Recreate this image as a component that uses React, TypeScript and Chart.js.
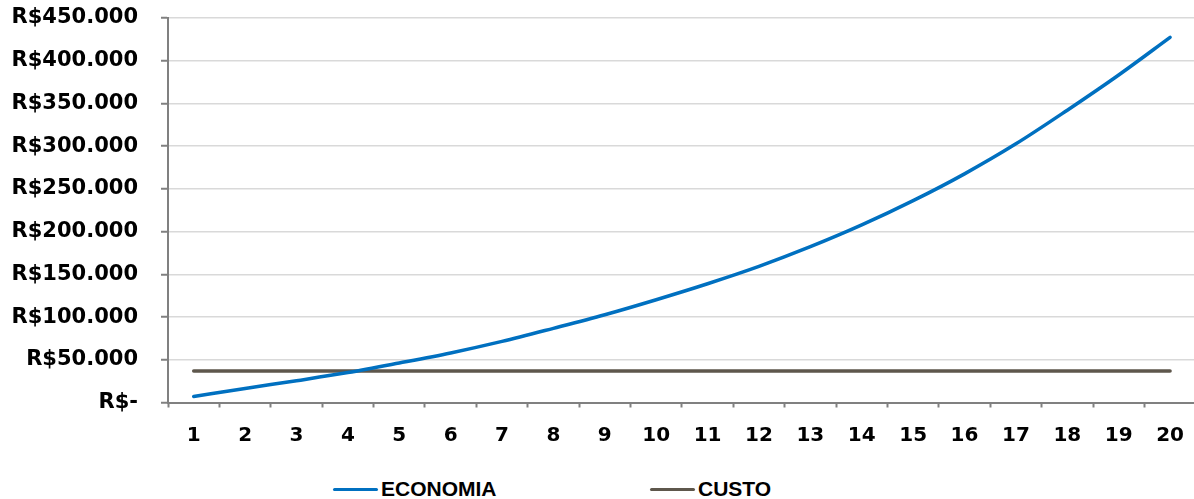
import React, { useEffect, useRef } from "react";
import { Chart, registerables } from "chart.js";

Chart.register(...registerables);

const years = ["1", "2", "3", "4", "5", "6", "7", "8", "9", "10", "11", "12", "13", "14", "15", "16", "17", "18", "19", "20"];
const economia = [7000, 16500, 25500, 35000, 46200, 58000, 71500, 86800, 102700, 120300, 139000, 159300, 182300, 207800, 236200, 267600, 302700, 342100, 383300, 427300];
const custo = [37000, 37000, 37000, 37000, 37000, 37000, 37000, 37000, 37000, 37000, 37000, 37000, 37000, 37000, 37000, 37000, 37000, 37000, 37000, 37000];
const yTickLabels = ["R$-", "R$50.000", "R$100.000", "R$150.000", "R$200.000", "R$250.000", "R$300.000", "R$350.000", "R$400.000", "R$450.000"];
const seriesNames = ["ECONOMIA", "CUSTO"];
const seriesColors = ["#0070C0", "#5E574C"];

export default function App() {
  const canvasRef = useRef<HTMLCanvasElement | null>(null);

  useEffect(() => {
    if (!canvasRef.current) return;
    const chart = new Chart(canvasRef.current, {
      type: "line",
      data: {
        labels: years,
        datasets: [
          {
            label: seriesNames[0],
            data: economia,
            borderColor: seriesColors[0],
            backgroundColor: seriesColors[0],
            borderWidth: 3.5,
            pointRadius: 0,
            cubicInterpolationMode: "monotone",
            borderCapStyle: "round",
          },
          {
            label: seriesNames[1],
            data: custo,
            borderColor: seriesColors[1],
            backgroundColor: seriesColors[1],
            borderWidth: 3.5,
            pointRadius: 0,
            tension: 0,
            borderCapStyle: "round",
          },
        ],
      },
      options: {
        animation: false,
        responsive: true,
        maintainAspectRatio: false,
        layout: { padding: { top: 0, right: 0, bottom: 0, left: 0 } },
        plugins: {
          legend: { display: false },
          tooltip: { enabled: false },
        },
        scales: {
          x: {
            type: "category",
            offset: true,
            grid: {
              offset: true,
              drawOnChartArea: false,
              tickLength: 5,
              tickColor: "#808080",
              tickWidth: 2,
            },
            border: { color: "#808080", width: 2 },
            ticks: {
              color: "#000000",
              padding: 16,
              maxRotation: 0,
              autoSkip: false,
              font: { family: "'DejaVu Sans', sans-serif", size: 20, weight: "bold" },
            },
            afterFit: (scale: any) => {
              scale.height = 67.5;
            },
          },
          y: {
            min: 0,
            max: 450000,
            grid: {
              color: "#D9D9D9",
              lineWidth: 1.5,
              tickLength: 7,
              tickColor: "#808080",
              tickWidth: 2,
            },
            border: { color: "#808080", width: 2 },
            ticks: {
              stepSize: 50000,
              color: "#000000",
              padding: 23,
              font: { family: "'DejaVu Sans', sans-serif", size: 21, weight: "bold" },
              callback: (_v: any, i: number) => yTickLabels[i],
            },
            afterFit: (scale: any) => {
              scale.width = 168;
              scale.paddingTop = 18;
              scale.paddingBottom = 0;
            },
          },
        },
      },
    });
    return () => chart.destroy();
  }, []);

  const legendLefts = [333, 650];

  return (
    <div style={{ position: "absolute", left: 0, top: 0, width: 1194, height: 499, overflow: "hidden", background: "#fff" }}>
      <div style={{ position: "absolute", left: 0, top: 0, width: 1200, height: 470 }}>
        <canvas ref={canvasRef} />
      </div>
      {seriesNames.map((name, i) => (
        <div
          key={name}
          style={{
            position: "absolute",
            left: legendLefts[i],
            top: 477,
            height: 24,
            display: "flex",
            alignItems: "center",
            fontFamily: "'Liberation Sans', Arial, sans-serif",
            fontWeight: "bold",
            fontSize: 21,
            color: "#000",
          }}
        >
          <span style={{ display: "inline-block", width: 45, height: 3, borderRadius: 2, background: seriesColors[i], marginRight: 3 }} />
          <span>{name}</span>
        </div>
      ))}
    </div>
  );
}
